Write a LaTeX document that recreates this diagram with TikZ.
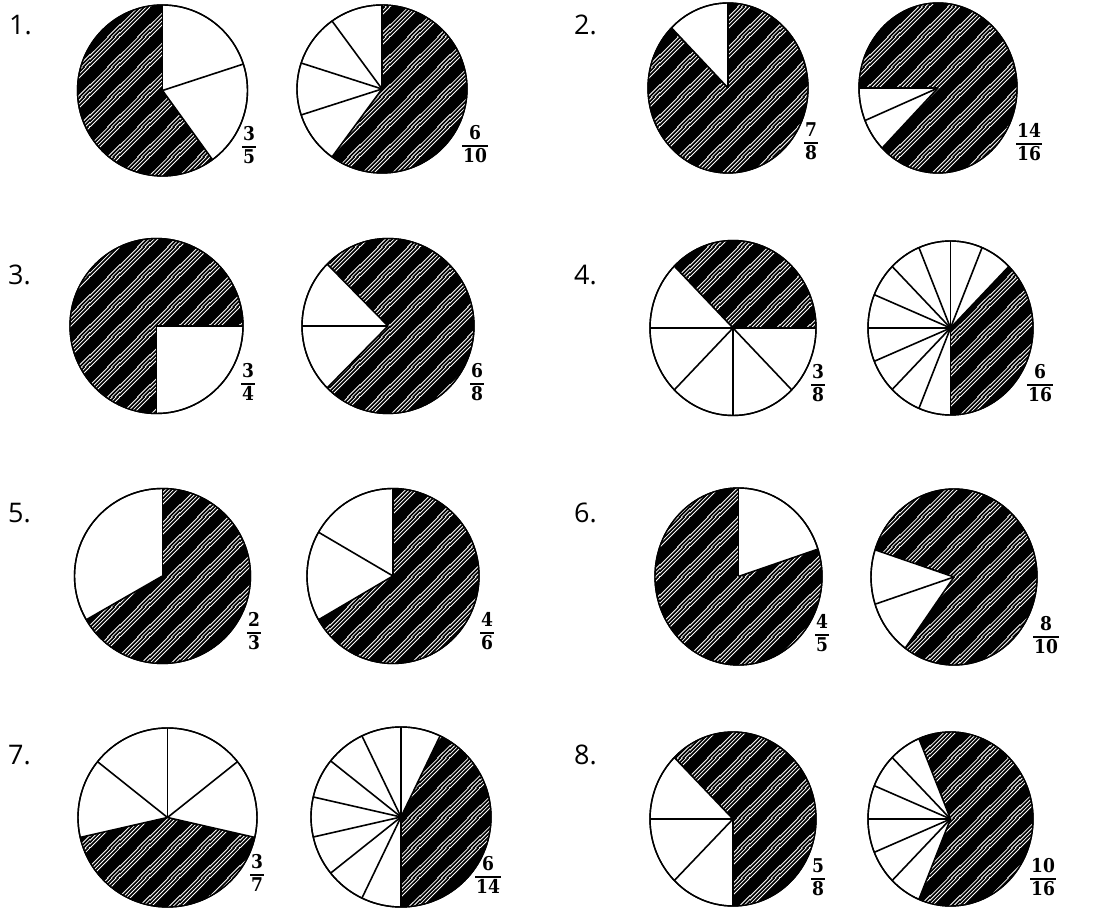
\documentclass[tikz,border=0pt]{standalone}
\usepackage{fontspec}
\newfontfamily\numfont{Open Sans}
\newfontfamily\fracfont{DejaVu Serif Condensed}
\usetikzlibrary{patterns.meta}
\tikzdeclarepattern{
  name=hatch,
  type=uncolored,
  bounding box={(0pt,0pt) and (30pt,30pt)},
  tile size={(30pt,30pt)},
  code={
    \foreach \c in {0,4,8,12} {
      \draw[line width=0.85pt] ({-2pt},{(\c-2)*1pt}) -- ({(32-\c)*1pt},{32pt});
      \draw[line width=0.85pt] ({(28-\c)*1pt},{-2pt}) -- ({32pt},{(\c+2)*1pt});
    }
  }
}
\tikzset{
  pieedge/.style={line width=1.4pt, fill=white},
  pieray/.style={line width=1.6pt},
  shade/.style={fill=black},
  hatchfill/.style={pattern=hatch, pattern color=white},
  num/.style={font=\numfont\fontsize{27}{27}\selectfont, anchor=base west, inner sep=0pt},
  frc/.style={font=\fracfont\bfseries\fontsize{19}{20}\selectfont, inner sep=0pt}
}
\newcommand\fr[2]{{\setlength{\arrayrulewidth}{1.8pt}\renewcommand\arraystretch{0.95}%
  \begin{tabular}{@{\hspace{1pt}}c@{\hspace{1pt}}}#1\\[0pt]\hline\rule{0pt}{16pt}#2\end{tabular}}}
% cx cy rx ry n start count
\newcommand\fracpie[7]{%
  \pgfmathsetmacro\pstep{360/#5}%
  \pgfmathsetmacro\pend{#6+#7*\pstep}%
  \draw[pieedge] (#1,#2) ellipse [x radius=#3pt, y radius=#4pt];
  \fill[shade] (#1,#2) -- ({#1+#3*cos(#6)},{#2+#4*sin(#6)}) arc[start angle=#6, end angle=\pend, x radius=#3pt, y radius=#4pt] -- cycle;
  \fill[hatchfill] (#1,#2) -- ({#1+#3*cos(#6)},{#2+#4*sin(#6)}) arc[start angle=#6, end angle=\pend, x radius=#3pt, y radius=#4pt] -- cycle;
  \draw[line width=1.4pt] (#1,#2) ellipse [x radius=#3pt, y radius=#4pt];
  \foreach \k in {#7,...,#5} {
    \draw[pieray] (#1,#2) -- ({#1+#3*cos(#6+\k*\pstep)},{#2+#4*sin(#6+\k*\pstep)});
  }
}
\begin{document}
\begin{tikzpicture}[x=1pt,y=1pt]
\useasboundingbox (0,0) rectangle (1094,907);
% row 1
\fracpie{162.5}{816.5}{85}{85.5}{5}{90}{3}
\fracpie{382}{818}{85}{84}{10}{234}{6}
\fracpie{728}{819}{80}{85}{8}{135}{7}
\fracpie{938}{819}{79}{85}{16}{225}{14}
% row 2
\fracpie{156.5}{581}{86.5}{87.5}{4}{0}{3}
\fracpie{388}{581}{86}{87.5}{8}{225}{6}
\fracpie{733}{579}{83}{87.5}{8}{0}{3}
\fracpie{950.5}{579}{82.5}{87}{16}{270}{6}
% row 3
\fracpie{162.5}{331}{88}{87.5}{3}{210}{2}
\fracpie{393}{331}{86}{87.5}{6}{210}{4}
\fracpie{738.5}{330.5}{83.5}{88.5}{5}{90}{4}
\fracpie{954}{330}{83}{88}{10}{234}{8}
% row 4
\fracpie{167.5}{89.5}{89.5}{89.5}{7}{192.857}{3}
\fracpie{401}{90}{90}{90}{14}{270}{6}
\fracpie{733}{88}{83}{87}{8}{270}{5}
\fracpie{950.5}{88}{82.5}{87}{16}{247.5}{10}
% problem numbers
\node[num] (n1) at (9,872) {1.};
\node[num] (n2) at (574,872) {2.};
\node[num] (n3) at (8,622) {3.};
\node[num] (n4) at (574,622) {4.};
\node[num] (n5) at (8,384) {5.};
\node[num] (n6) at (574,384) {6.};
\node[num] (n7) at (8,142) {7.};
\node[num] (n8) at (574,142) {8.};
% fractions
\node[frc] (f1a) at (249,759) {\fr{3}{5}};
\node[frc] (f1b) at (475,760) {\fr{6}{10}};
\node[frc] (f2a) at (811,763) {\fr{7}{8}};
\node[frc] (f2b) at (1029,762) {\fr{14}{16}};
\node[frc] (f3a) at (248,522) {\fr{3}{4}};
\node[frc] (f3b) at (477,522) {\fr{6}{8}};
\node[frc] (f4a) at (818,521) {\fr{3}{8}};
\node[frc] (f4b) at (1040,521) {\fr{6}{16}};
\node[frc] (f5a) at (254,273) {\fr{2}{3}};
\node[frc] (f5b) at (487,273) {\fr{4}{6}};
\node[frc] (f6a) at (822,271) {\fr{4}{5}};
\node[frc] (f6b) at (1046,269) {\fr{8}{10}};
\node[frc] (f7a) at (257,31) {\fr{3}{7}};
\node[frc] (f7b) at (488,29) {\fr{6}{14}};
\node[frc] (f8a) at (818,27) {\fr{5}{8}};
\node[frc] (f8b) at (1043,27) {\fr{10}{16}};
\end{tikzpicture}
\end{document}
